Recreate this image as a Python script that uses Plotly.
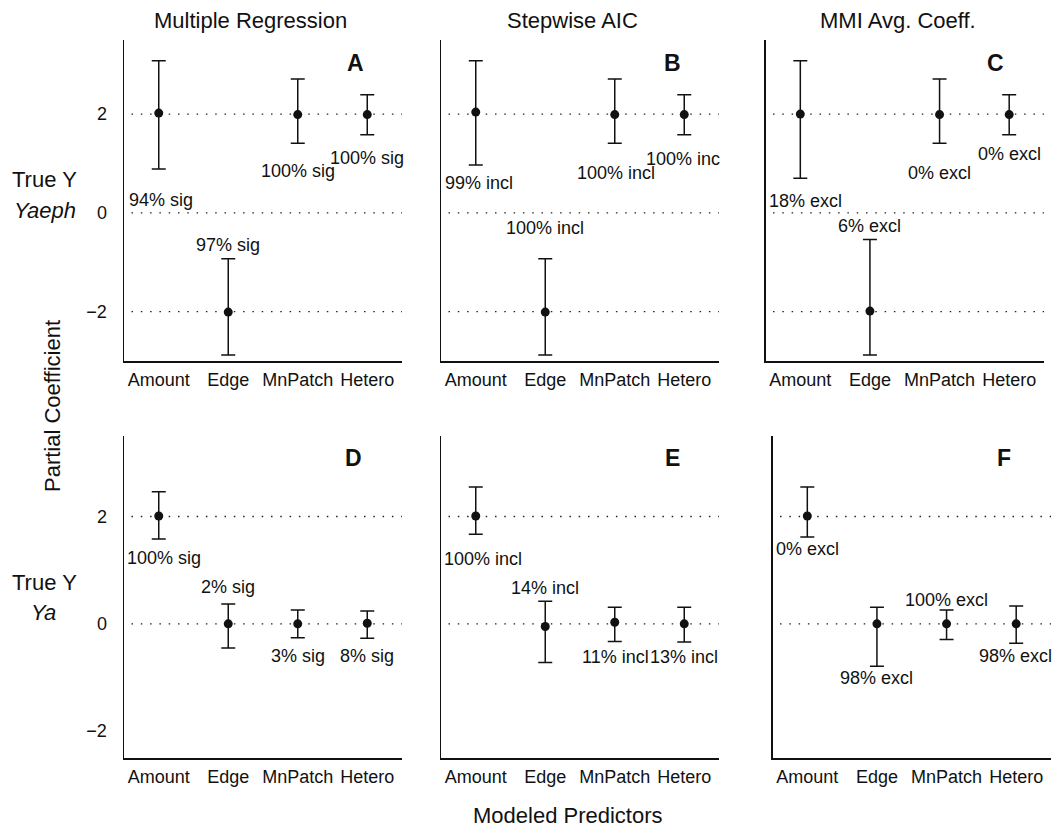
import plotly.graph_objects as go

W, H = 1057, 829

# ---------------- data ----------------
predictors = ["Amount", "Edge", "MnPatch", "Hetero"]
x_pos = [1, 2, 3, 4]
method_titles = ["Multiple Regression", "Stepwise AIC", "MMI Avg. Coeff."]
panel_letters = ["A", "B", "C", "D", "E", "F"]
y_ticks = [-2, 0, 2]
ref_levels_top = [2, 0, -2]      # true coefficients, Y_aeph
ref_levels_bottom = [2, 0]       # true coefficients, Y_a

# estimates and interval ends per panel (A..F), order Amount, Edge, MnPatch, Hetero
est_A = [2.02, -2.01, 1.99, 1.99]
low_A = [0.89, -2.88, 1.41, 1.58]
up_A = [3.08, -0.93, 2.71, 2.39]

est_B = [2.04, -2.01, 1.99, 1.99]
low_B = [0.97, -2.88, 1.41, 1.58]
up_B = [3.08, -0.93, 2.71, 2.39]

est_C = [2.00, -1.99, 1.99, 1.99]
low_C = [0.70, -2.88, 1.41, 1.58]
up_C = [3.08, -0.54, 2.71, 2.39]

est_D = [2.01, 0.00, 0.00, 0.01]
low_D = [1.58, -0.45, -0.26, -0.27]
up_D = [2.46, 0.37, 0.26, 0.24]

est_E = [2.01, -0.05, 0.03, 0.00]
low_E = [1.67, -0.72, -0.33, -0.34]
up_E = [2.55, 0.42, 0.31, 0.31]

est_F = [2.01, 0.00, 0.00, 0.00]
low_F = [1.62, -0.79, -0.29, -0.36]
up_F = [2.55, 0.31, 0.26, 0.33]

# percentage labels (text, x, y in data units)
lab_A = ["94% sig", "97% sig", "100% sig", "100% sig"]
lab_A_x = [1.03, 2.0, 3.0, 4.0]
lab_A_y = [0.26, -0.65, 0.85, 1.12]

lab_B = ["99% incl", "100% incl", "100% incl", "100% inc"]
lab_B_x = [1.04, 2.0, 3.02, 3.98]
lab_B_y = [0.60, -0.30, 0.80, 1.09]

lab_C = ["18% excl", "6% excl", "0% excl", "0% excl"]
lab_C_x = [1.07, 2.0, 3.0, 4.0]
lab_C_y = [0.23, -0.27, 0.80, 1.20]

lab_D = ["100% sig", "2% sig", "3% sig", "8% sig"]
lab_D_x = [1.08, 2.0, 3.0, 4.0]
lab_D_y = [1.22, 0.69, -0.59, -0.59]

lab_E = ["100% incl", "14% incl", "11% incl", "13% incl"]
lab_E_x = [1.11, 2.0, 3.01, 4.0]
lab_E_y = [1.21, 0.66, -0.62, -0.62]

lab_F = ["0% excl", "98% excl", "100% excl", "98% excl"]
lab_F_x = [1.0, 2.0, 3.0, 3.99]
lab_F_y = [1.39, -1.00, 0.44, -0.59]

panels = [
    (est_A, low_A, up_A, lab_A, lab_A_x, lab_A_y),
    (est_B, low_B, up_B, lab_B, lab_B_x, lab_B_y),
    (est_C, low_C, up_C, lab_C, lab_C_x, lab_C_y),
    (est_D, low_D, up_D, lab_D, lab_D_x, lab_D_y),
    (est_E, low_E, up_E, lab_E, lab_E_x, lab_E_y),
    (est_F, low_F, up_F, lab_F, lab_F_x, lab_F_y),
]

# ---------------- layout geometry (pixels) ----------------
def px(x):
    return x / W

def py(y):
    return 1 - y / H

x_domains_px = [(124, 402), (441, 719), (765.5, 1044), (124, 402), (441, 719), (772.5, 1051)]
y_domains_px = [(361, 40)] * 3 + [(758, 436)] * 3
y_ranges = [[-3, 3.5]] * 3 + [[-2.5, 3.5]] * 3

FONT = "Liberation Sans, Arial, Helvetica, sans-serif"
INK = "#111111"

fig = go.Figure()
layout = dict(
    width=W, height=H,
    margin=dict(l=0, r=0, t=0, b=0),
    paper_bgcolor="white", plot_bgcolor="white",
    showlegend=False,
    font=dict(family=FONT, size=18, color=INK),
)
annotations = []
shapes = []

for i, (est, low, up, labs, lx, ly) in enumerate(panels):
    n = i + 1
    xa = "x" if n == 1 else f"x{n}"
    ya = "y" if n == 1 else f"y{n}"
    fig.add_trace(go.Scatter(
        x=x_pos, y=est, xaxis=xa, yaxis=ya, mode="markers",
        marker=dict(size=9, color=INK),
        error_y=dict(type="data", symmetric=False,
                     array=[u - e for u, e in zip(up, est)],
                     arrayminus=[e - l for e, l in zip(est, low)],
                     color=INK, thickness=1.5, width=7),
        cliponaxis=False,
    ))
    x0, x1 = x_domains_px[i]
    yb, yt = y_domains_px[i]
    left_col = i % 3 == 0
    layout[f"xaxis{n if n > 1 else ''}"] = dict(
        domain=[px(x0), px(x1)], range=[0.5, 4.5], anchor=ya,
        tickvals=x_pos, ticktext=predictors, ticks="",
        showline=True, linecolor=INK, linewidth=1.5,
        showgrid=False, zeroline=False, fixedrange=True,
        tickfont=dict(size=18, color=INK), ticklabelstandoff=2,
    )
    layout[f"yaxis{n if n > 1 else ''}"] = dict(
        domain=[py(yb), py(yt)], range=y_ranges[i], anchor=xa,
        tickvals=y_ticks, showticklabels=left_col, ticks="",
        showline=True, linecolor=INK, linewidth=1.5,
        showgrid=False, zeroline=False, fixedrange=True,
        tickfont=dict(size=18, color=INK), ticklabelstandoff=12,
    )
    levels = ref_levels_top if i < 3 else ref_levels_bottom
    for lv in levels:
        shapes.append(dict(
            type="line", xref=f"{xa} domain", yref=ya,
            x0=0.027, x1=1.0, y0=lv, y1=lv, layer="below",
            line=dict(color="#222222", width=1.4, dash="1.5px,7.8px"),
        ))
    for t, xx, yy in zip(labs, lx, ly):
        annotations.append(dict(
            x=xx, y=yy, xref=xa, yref=ya, text=t, showarrow=False,
            xanchor="center", yanchor="middle",
            font=dict(size=18, color=INK),
        ))

# panel letters
letter_px = [(355, 63), (672, 63), (995, 63), (353, 458), (672, 458), (1004, 458)]
for letter, (lxp, lyp) in zip(panel_letters, letter_px):
    annotations.append(dict(
        x=px(lxp), y=py(lyp), xref="paper", yref="paper",
        text=f"<b>{letter}</b>", showarrow=False,
        xanchor="center", yanchor="middle",
        font=dict(size=23, color=INK),
    ))

# column titles
title_px = [(250, 20), (572, 20), (897.5, 20)]
for t, (tx, ty) in zip(method_titles, title_px):
    annotations.append(dict(
        x=px(tx), y=py(ty), xref="paper", yref="paper", text=t,
        showarrow=False, xanchor="center", yanchor="middle",
        font=dict(size=22, color=INK),
    ))

# row labels
row_labels = [("True Y", 44.5, 180), ("<i>Yaeph</i>", 45, 211),
              ("True Y", 44.5, 582), ("<i>Ya</i>", 43.5, 612)]
for t, tx, ty in row_labels:
    annotations.append(dict(
        x=px(tx), y=py(ty), xref="paper", yref="paper", text=t,
        showarrow=False, xanchor="center", yanchor="middle",
        font=dict(size=22, color=INK),
    ))

# axis titles
annotations.append(dict(
    x=px(52), y=py(406), xref="paper", yref="paper", text="Partial Coefficient",
    showarrow=False, textangle=-90, xanchor="center", yanchor="middle",
    font=dict(size=22, color=INK),
))
annotations.append(dict(
    x=px(567.5), y=py(815), xref="paper", yref="paper", text="Modeled Predictors",
    showarrow=False, xanchor="center", yanchor="middle",
    font=dict(size=22, color=INK),
))

layout["annotations"] = annotations
layout["shapes"] = shapes
fig.update_layout(**layout)
fig.write_html(
    "out.html",
    config={"displayModeBar": False, "staticPlot": True},
    post_script="document.body.style.margin='0px';document.body.style.padding='0px';",
)
